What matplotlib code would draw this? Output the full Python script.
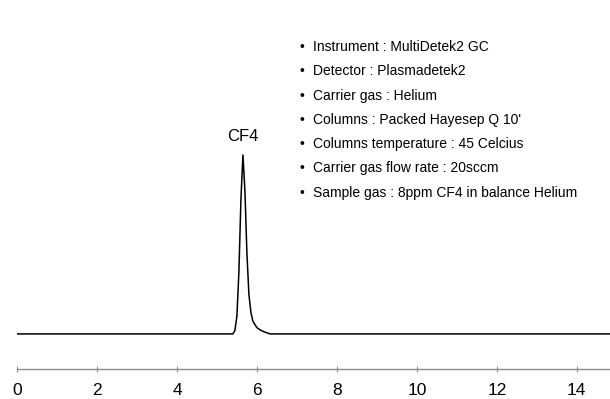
import matplotlib
matplotlib.use("Agg")
import matplotlib.pyplot as plt

plt.rcParams['font.family'] = ['Liberation Sans', 'DejaVu Sans']

# retention time (min) and detector signal (relative)
time = [0.0, 5.40, 5.45, 5.50, 5.55, 5.60, 5.65, 5.70, 5.75, 5.80,
        5.85, 5.90, 6.00, 6.10, 6.20, 6.33, 14.83]
signal = [0, 0, 2, 10, 35, 75, 100, 80, 45, 22,
          12, 7, 3.5, 2, 1, 0, 0]

peak_name = "CF4"
peak_time = 5.65

conditions = [
    "Instrument : MultiDetek2 GC",
    "Detector : Plasmadetek2",
    "Carrier gas : Helium",
    "Columns : Packed Hayesep Q 10'",
    "Columns temperature : 45 Celcius",
    "Carrier gas flow rate : 20sccm",
    "Sample gas : 8ppm CF4 in balance Helium",
]

xticks = [0, 2, 4, 6, 8, 10, 12, 14]

fig = plt.figure(figsize=(6.10, 3.99), dpi=100)
ax = fig.add_axes([17/610, 30/399, 1 - 17/610, 359/399])

ax.plot(time, signal, color='black', lw=1.1)
ax.set_xlim(0, 14.83)
ax.set_ylim(-19.6, 181)

for s in ['top', 'right', 'left']:
    ax.spines[s].set_visible(False)
ax.spines['bottom'].set_color('#8c8c8c')
ax.spines['bottom'].set_linewidth(1.0)
ax.set_yticks([])
ax.set_xticks(xticks)
ax.tick_params(axis='x', direction='inout', length=4, color='#8c8c8c',
               labelsize=12.5, pad=8)

ax.text(peak_time, 106, peak_name, ha='center', va='bottom', fontsize=12)

for i, line in enumerate(conditions):
    y = 47 + i * 24.3
    fig.text(299/610, 1 - y/399, u"\u2022", ha='left', va='center', fontsize=10)
    fig.text(313/610, 1 - y/399, line, ha='left', va='center', fontsize=10)

fig.savefig("out.png", dpi=100)
